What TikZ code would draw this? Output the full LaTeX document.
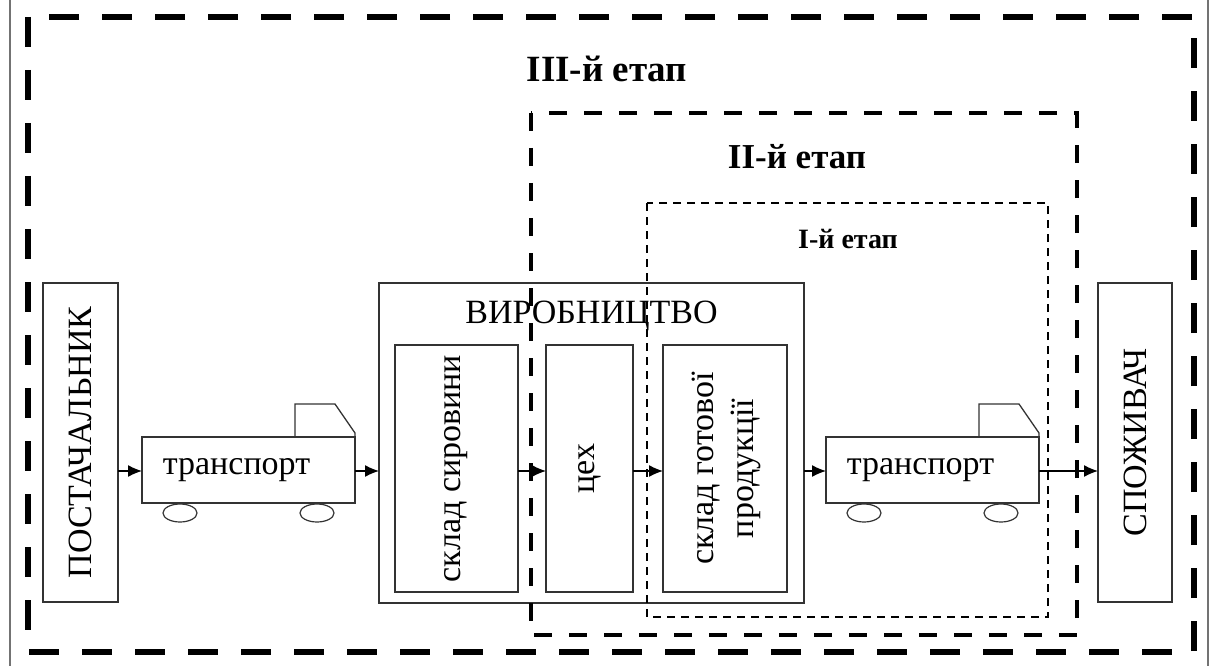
\documentclass[tikz,border=0pt]{standalone}
\usepackage{fontspec}
\setmainfont{Liberation Serif}
\usepackage{graphicx}
\usepackage{tikz}
\usetikzlibrary{arrows.meta, positioning}

\tikzset{
  box/.style={draw=black!80, line width=1.3pt, inner sep=0pt, outer sep=0pt,
    font=\fontsize{34}{40}\selectfont},
  txt/.style={font=\fontsize{34}{40}\selectfont, inner sep=0pt},
  stagelbl/.style={inner sep=0pt, anchor=base},
  flowarr/.style={line width=1.3pt, -{Latex[length=14pt,width=12pt]}},
  stageIII/.style={line width=6pt, dash pattern=on 30pt off 23pt},
  stageII/.style={line width=4.5pt, dash pattern=on 18pt off 17pt},
  stageI/.style={line width=1.8pt, dash pattern=on 8pt off 6pt},
}

\begin{document}
\begin{tikzpicture}[x=1pt, y=-1pt]
	\useasboundingbox (0,0) rectangle (1216,666);
	% page edges
	\draw [black!55, line width=1.2pt] (10,0) -- (10,666);
	\draw [black!55, line width=1.2pt] (1208,0) -- (1208,666);
	\coordinate (flow) at (0,471);

	% blocks
	\node [box, minimum width=75, minimum height=319] (supplier) at (80.5,442.5) {\rotatebox{90}{ПОСТАЧАЛЬНИК}};
	\node [box, minimum width=425, minimum height=320] (production) at (591.5,443) {};
	\node [txt, below=18pt of production.north] (prodlbl) {ВИРОБНИЦТВО};
	\node [box, minimum width=123, minimum height=247] (rawstore) at (456.5,468.5) {\rotatebox{90}{склад сировини}};
	\node [box, minimum width=87, minimum height=247] (workshop) at (589.5,468.5) {\rotatebox{90}{цех}};
	\node [box, minimum width=124, minimum height=247] (finstore) at (725,468.5)
		{\rotatebox{90}{\begin{tabular}{@{}c@{}}склад готової\\продукції\end{tabular}}};
	\node [box, minimum width=74, minimum height=319] (consumer) at (1135,442.5) {\rotatebox{90}{СПОЖИВАЧ}};

	% trucks
	\foreach \nm/\cx in {truckL/248.5, truckR/932.5} {
		\node [box, minimum width=213, minimum height=66] (\nm) at (\cx,470) {};
		\node [txt] (\nm txt) at ([xshift=-12pt]\nm.center) {транспорт};
		\draw [black!80, line width=1.3pt] (\nm.north east) -- ++(0,-4) -- ++(-20,-29) -- ++(-40,0) -- ++(0,33);
		\draw [black!80, line width=1.2pt] (\nm.south west) ++(38,10) ellipse [x radius=17, y radius=9];
		\draw [black!80, line width=1.2pt] (\nm.south east) ++(-38,10) ellipse [x radius=17, y radius=9];
	}

	% flow
	\draw [flowarr] (supplier.east |- flow) -- (truckL.west |- flow);
	\draw [flowarr] (truckL.east |- flow) -- (production.west |- flow);
	\draw [flowarr] (rawstore.east |- flow) -- (workshop.west |- flow);
	\draw [flowarr] (workshop.east |- flow) -- (finstore.west |- flow);
	\draw [flowarr] (production.east |- flow) -- (truckR.west |- flow);
	\draw [flowarr] (truckR.east |- flow) -- (consumer.west |- flow);

	% stages
	\draw [stageIII] (28,17) rectangle (1194,652);
	\draw [stageII] (531,113) rectangle (1077,635);
	\draw [stageI] (647,203) rectangle (1048,617);
	\node [stagelbl, font=\fontsize{37}{42}\selectfont\bfseries] (lblIII) at (607,82) {III-й етап};
	\node [stagelbl, font=\fontsize{35}{40}\selectfont\bfseries] (lblII) at (797,168) {II-й етап};
	\node [stagelbl, font=\fontsize{28}{32}\selectfont\bfseries] (lblI) at (848,248) {I-й етап};
\end{tikzpicture}
\end{document}
